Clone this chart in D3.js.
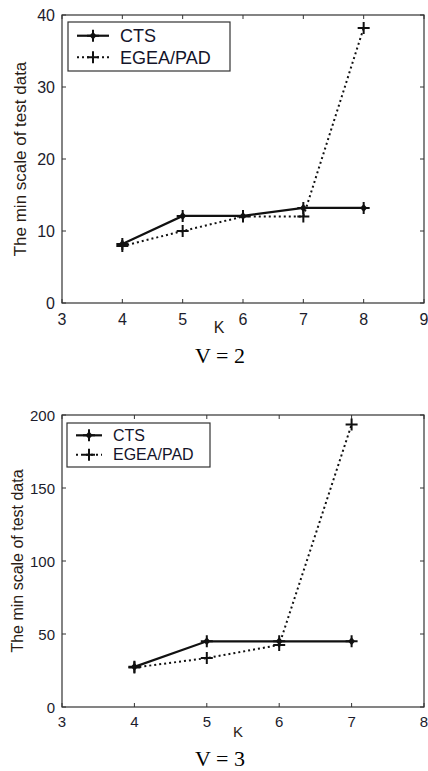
<!DOCTYPE html>
<html lang="en">
<head>
<meta charset="UTF-8">
<title>Min scale of test data</title>
<script src="https://d3js.org/d3.v7.min.js"></script>
<style>
  body { margin: 0; background: #fff; }
  .tick-label { font-family: "Liberation Sans", Arial, sans-serif; fill: #1c1c2c; }
  .axis-title { font-family: "Liberation Sans", Arial, sans-serif; fill: #2a1c14; }
  .legend-text { font-family: "Liberation Sans", Arial, sans-serif; fill: #14142a; }
  .panel-title { font-family: "Liberation Serif", "Times New Roman", serif; font-size: 22px; fill: #000; }
</style>
</head>
<body>
<svg width="428" height="771"></svg>
<script>
// top panel (V = 2)
const kTop = [4, 5, 6, 7, 8];
const ctsTop = [8.2, 12.1, 12.1, 13.2, 13.2];
const egeaTop = [7.9, 10, 12, 12, 38.2];
const xTicksTop = [3, 4, 5, 6, 7, 8, 9];
const yTicksTop = [0, 10, 20, 30, 40];

// bottom panel (V = 3)
const kBot = [4, 5, 6, 7];
const ctsBot = [27.5, 45, 45, 45];
const egeaBot = [27, 33.5, 42.5, 193.5];
const xTicksBot = [3, 4, 5, 6, 7, 8];
const yTicksBot = [0, 50, 100, 150, 200];

const seriesNames = ["CTS", "EGEA/PAD"];

const svg = d3.select("svg");

function drawPanel(p) {
    const g = svg.append("g");
    const x = d3.scaleLinear().domain([p.xTicks[0], p.xTicks[p.xTicks.length - 1]]).range([p.left, p.right]);
    const y = d3.scaleLinear().domain([p.yTicks[0], p.yTicks[p.yTicks.length - 1]]).range([p.bottom, p.top]);

    // box
    g.append("rect")
        .attr("x", p.left).attr("y", p.top)
        .attr("width", p.right - p.left).attr("height", p.bottom - p.top)
        .attr("fill", "none").attr("stroke", "#333").attr("stroke-width", 1.2);

    // inward ticks on all sides
    const tl = 4;
    p.xTicks.forEach(t => {
        g.append("line").attr("x1", x(t)).attr("x2", x(t)).attr("y1", p.bottom).attr("y2", p.bottom - tl).attr("stroke", "#333");
        g.append("line").attr("x1", x(t)).attr("x2", x(t)).attr("y1", p.top).attr("y2", p.top + tl).attr("stroke", "#333");
        g.append("text").attr("class", "tick-label")
            .style("font-size", p.tickFont + "px")
            .attr("x", x(t)).attr("y", p.bottom + p.xLabDy)
            .attr("text-anchor", "middle").text(t);
    });
    p.yTicks.forEach(t => {
        g.append("line").attr("x1", p.left).attr("x2", p.left + tl).attr("y1", y(t)).attr("y2", y(t)).attr("stroke", "#333");
        g.append("line").attr("x1", p.right).attr("x2", p.right - tl).attr("y1", y(t)).attr("y2", y(t)).attr("stroke", "#333");
        g.append("text").attr("class", "tick-label")
            .style("font-size", p.tickFont + "px")
            .attr("x", p.left - 7).attr("y", y(t) + 6)
            .attr("text-anchor", "end").text(t);
    });

    // axis titles
    g.append("text").attr("class", "axis-title")
        .style("font-size", p.tickFont + "px")
        .attr("x", p.kx).attr("y", p.bottom + 30)
        .attr("text-anchor", "middle").text("K");
    g.append("text").attr("class", "axis-title")
        .style("font-size", p.yLabFont + "px")
        .attr("transform", `translate(${p.yLabX},${p.yLabY}) rotate(-90)`)
        .attr("text-anchor", "middle").text("The min scale of test data");

    g.append("text").attr("class", "panel-title")
        .attr("x", 220).attr("y", p.titleY)
        .attr("text-anchor", "middle").text(p.title);

    const line = d3.line().x(d => x(d[0])).y(d => y(d[1]));
    const cts = p.k.map((k, i) => [k, p.cts[i]]);
    const egea = p.k.map((k, i) => [k, p.egea[i]]);

    g.append("path").datum(egea).attr("d", line)
        .attr("fill", "none").attr("stroke", "#111").attr("stroke-width", 2)
        .attr("stroke-dasharray", "2,3");
    g.append("path").datum(cts).attr("d", line)
        .attr("fill", "none").attr("stroke", "#111").attr("stroke-width", 2.2);

    cts.forEach(d => ctsMarker(g, x(d[0]), y(d[1])));
    egea.forEach(d => plusMarker(g, x(d[0]), y(d[1])));

    // legend
    const lg = g.append("g");
    lg.append("rect")
        .attr("x", p.legend.x).attr("y", p.legend.y)
        .attr("width", p.legend.w).attr("height", p.legend.h)
        .attr("fill", "#fff").attr("stroke", "#333").attr("stroke-width", 1.2);
    const rows = [p.legend.y + p.legend.h * 0.28, p.legend.y + p.legend.h * 0.72];
    const lx1 = p.legend.x + 9, lx2 = p.legend.x + p.legend.lw, mx = (lx1 + lx2) / 2;
    lg.append("line").attr("x1", lx1).attr("x2", lx2).attr("y1", rows[0]).attr("y2", rows[0])
        .attr("stroke", "#111").attr("stroke-width", 2.2);
    ctsMarker(lg, mx, rows[0]);
    lg.append("line").attr("x1", lx1).attr("x2", lx2).attr("y1", rows[1]).attr("y2", rows[1])
        .attr("stroke", "#111").attr("stroke-width", 2).attr("stroke-dasharray", "2,3");
    plusMarker(lg, mx, rows[1]);
    seriesNames.forEach((s, i) => {
        lg.append("text").attr("class", "legend-text")
            .style("font-size", p.legend.font + "px")
            .attr("x", p.legend.x + p.legend.tx).attr("y", rows[i] + p.legend.font * 0.36).text(s);
    });
}

function plusMarker(g, cx, cy) {
    g.append("path")
        .attr("d", `M${cx - 6},${cy}H${cx + 6}M${cx},${cy - 6}V${cy + 6}`)
        .attr("stroke", "#111").attr("stroke-width", 2);
}

function ctsMarker(g, cx, cy) {
    plusMarker(g, cx, cy);
    g.append("path")
        .attr("d", `M${cx},${cy - 4}L${cx + 3.5},${cy}L${cx},${cy + 4}L${cx - 3.5},${cy}Z`)
        .attr("fill", "#111");
}

drawPanel({
    k: kTop, cts: ctsTop, egea: egeaTop, xTicks: xTicksTop, yTicks: yTicksTop,
    left: 62, right: 424, top: 15, bottom: 303, kx: 219, titleY: 363, title: "V = 2",
    tickFont: 16, xLabDy: 22, yLabFont: 17, yLabX: 26, yLabY: 159,
    legend: { x: 68, y: 22, w: 162, h: 49, tx: 52, lw: 41, font: 18 }
});

drawPanel({
    k: kBot, cts: ctsBot, egea: egeaBot, xTicks: xTicksBot, yTicks: yTicksBot,
    left: 62, right: 424, top: 415, bottom: 707, kx: 238, titleY: 766, title: "V = 3",
    tickFont: 15, xLabDy: 20, yLabFont: 16, yLabX: 23, yLabY: 561,
    legend: { x: 67, y: 423, w: 143, h: 44, tx: 46, lw: 35, font: 16 }
});
</script>
</body>
</html>
